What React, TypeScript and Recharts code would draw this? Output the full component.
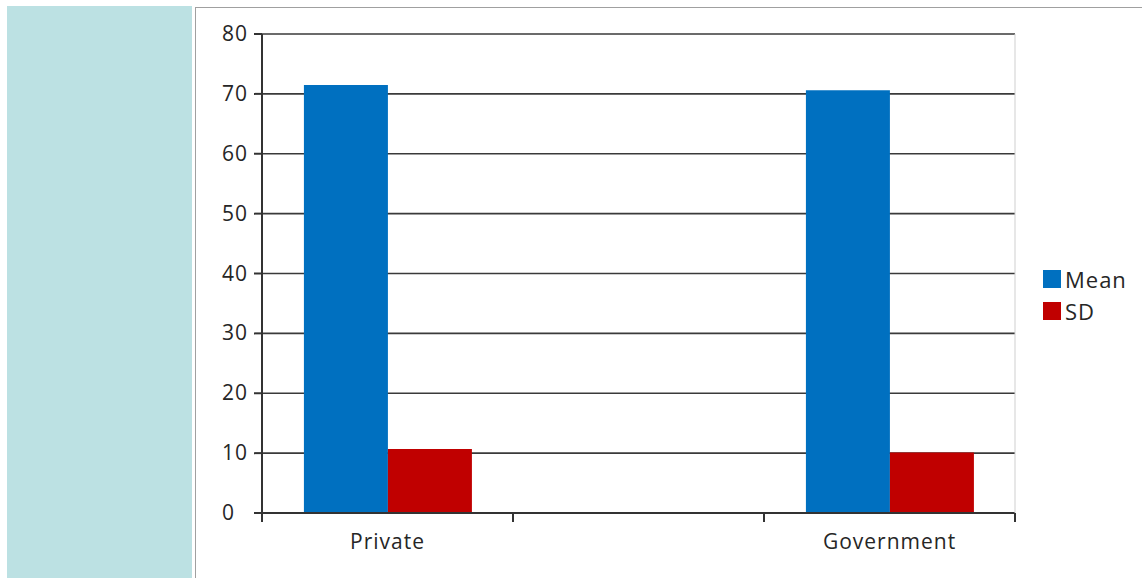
import React from "react";
import {
  BarChart,
  Bar,
  XAxis,
  YAxis,
  CartesianGrid,
} from "recharts";

const categories = ["Private", "", "Government"];
const meanValues = [71.5, null, 70.6];
const sdValues = [10.7, null, 10.1];
const yTicks = [0, 10, 20, 30, 40, 50, 60, 70, 80];

const series = [
  { key: "Mean", color: "#0070c0" },
  { key: "SD", color: "#c00000" },
];

const data = categories.map((name, i) => ({
  name,
  Mean: meanValues[i],
  SD: sdValues[i],
}));

const FONT = "'Open Sans', 'Noto Sans', sans-serif";

// tick marks sit on the band edges, labels at band centres
function CategoryTick(props: any) {
  const { x, y, payload, index, visibleTicksCount } = props;
  const half = payload && payload.offset ? payload.offset : 125.5;
  const last = index === (visibleTicksCount ?? categories.length) - 1;
  return (
    <g>
      <line x1={x - half} x2={x - half} y1={y} y2={y + 9} stroke="#333" strokeWidth={2} />
      {last && (
        <line x1={x + half} x2={x + half} y1={y} y2={y + 9} stroke="#333" strokeWidth={2} />
      )}
      <text
        x={x}
        y={y + 36}
        textAnchor="middle"
        fill="#262626"
        fontSize={21}
        letterSpacing={1}
        fontFamily={FONT}
      >
        {payload.value}
      </text>
    </g>
  );
}

// value labels are left aligned, like the original spreadsheet chart
function ValueTick(props: any) {
  const { x, y, payload } = props;
  return (
    <text
      x={x - 28}
      y={y}
      dy={7}
      textAnchor="start"
      fill="#262626"
      fontSize={21}
      letterSpacing={1}
      fontFamily={FONT}
    >
      {payload.value}
    </text>
  );
}

export default function App() {
  return (
    <div
      style={{
        position: "fixed",
        left: 0,
        top: 0,
        width: 1142,
        height: 578,
        overflow: "hidden",
        background: "#fff",
      }}
    >
      <div
        style={{
          position: "absolute",
          left: 7,
          top: 6,
          width: 185,
          height: 600,
          background: "#bce1e3",
        }}
      />
      <div
        style={{
          position: "absolute",
          left: 195,
          top: 7,
          width: 1000,
          height: 600,
          borderLeft: "1px solid #a0a0a0",
          borderTop: "1px solid #a0a0a0",
        }}
      >
        <BarChart
          width={946}
          height={571}
          data={data}
          margin={{ top: 26, right: 126, left: 0, bottom: 0 }}
          barCategoryGap="16.7%"
          barGap={0}
        >
          <CartesianGrid vertical={false} stroke="#3a3a3a" strokeWidth={1.6} />
          <XAxis
            dataKey="name"
            height={66}
            axisLine={{ stroke: "#333", strokeWidth: 2 }}
            tickLine={false}
            tickSize={0}
            tickMargin={0}
            tick={<CategoryTick />}
            interval={0}
          />
          <YAxis
            domain={[0, 80]}
            ticks={yTicks}
            width={66}
            tickSize={8}
            tickMargin={4}
            axisLine={{ stroke: "#333", strokeWidth: 2 }}
            tickLine={{ stroke: "#333", strokeWidth: 2 }}
            tick={<ValueTick />}
          />
          <YAxis
            yAxisId="right"
            orientation="right"
            domain={[0, 80]}
            width={1}
            tick={false}
            tickLine={false}
            axisLine={{ stroke: "#cfcfcf", strokeWidth: 1 }}
          />
          {series.map((s) => (
            <Bar key={s.key} dataKey={s.key} fill={s.color} isAnimationActive={false} />
          ))}
        </BarChart>
        <div
          style={{
            position: "absolute",
            left: 847,
            top: 255,
            fontFamily: FONT,
            fontSize: 22,
            letterSpacing: 1,
            color: "#262626",
          }}
        >
          {series.map((s) => (
            <div key={s.key} style={{ display: "flex", alignItems: "center", height: 32 }}>
              <span
                style={{
                  width: 18,
                  height: 18,
                  background: s.color,
                  display: "inline-block",
                  marginRight: 4,
                }}
              />
              {s.key}
            </div>
          ))}
        </div>
      </div>
    </div>
  );
}
